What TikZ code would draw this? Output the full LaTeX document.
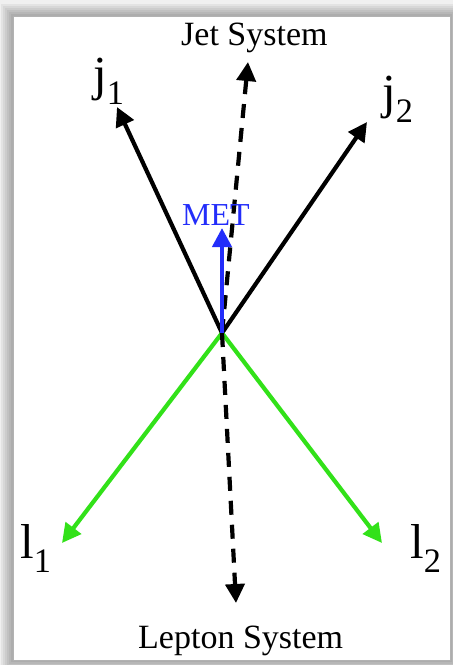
\documentclass[tikz,border=0pt]{standalone}
\usepackage{fontspec}
\setmainfont{Liberation Serif}
\usetikzlibrary{arrows.meta, calc, positioning}
\definecolor{jetgreen}{RGB}{50,225,25}
\definecolor{metblue}{RGB}{35,45,250}
\tikzset{
    vec/.style={line width=4.2pt, -{Triangle[length=19pt, width=19pt]}},
    sysvec/.style={vec, dash pattern=on 14pt off 10pt},
    biglabel/.style={anchor=base west, inner sep=0pt, font=\fontsize{49}{53}\selectfont},
    syslabel/.style={anchor=base west, inner sep=0pt, font=\fontsize{34}{38}\selectfont},
}
\begin{document}
\begin{tikzpicture}[x=1pt, y=-1pt]
    \useasboundingbox (0,0) rectangle (453,665);
    % 背景与阴影
    \fill[gray!12] (0,0) rectangle (453,665);
    \foreach \d in {0,2,...,12}
        \fill[black, opacity=0.05] ({13-\d},{16-\d}) rectangle ({450+\d},{660+\d});
    \fill[white] (13,16) rectangle (450,660);
    \draw[gray!60, line width=0.8pt] (13,16) rectangle (450,660);

    % 顶点与箭头端点
    \coordinate (o) at (222,333);
    \coordinate (j1tip) at (117,107);
    \coordinate (j2tip) at (367,122);
    \coordinate (l1tip) at (62,543);
    \coordinate (l2tip) at (382,543);
    \coordinate (jettip) at (248,62);
    \coordinate (leptip) at (236,603);
    \coordinate (mettip) at (222,228);

    % 喷注与轻子
    \draw[vec, black] (o) -- (j1tip);
    \draw[vec, black] (o) -- (j2tip);
    \draw[vec, jetgreen] (o) -- (l1tip);
    \draw[vec, jetgreen] (o) -- (l2tip);

    % 系统方向
    \draw[sysvec, black] (o) -- (jettip);
    \draw[sysvec, black] (o) -- (leptip);

    % MET
    \draw[vec, metblue] (o) -- (mettip);

    % 标签
    \node[biglabel] (j1) at (93,90) {j\textsubscript{1}};
    \node[biglabel] (j2) at (382,108) {j\textsubscript{2}};
    \node[biglabel] (l1) at (20,558) {l\textsubscript{1}};
    \node[biglabel] (l2) at (410,558) {l\textsubscript{2}};
    \node[syslabel] (jet) at (181,45) {Jet System};
    \node[syslabel] (lep) at (138,648) {Lepton System};
    \node[syslabel, metblue, font=\fontsize{32}{36}\selectfont] (met) at (182,225) {MET};
\end{tikzpicture}
\end{document}
